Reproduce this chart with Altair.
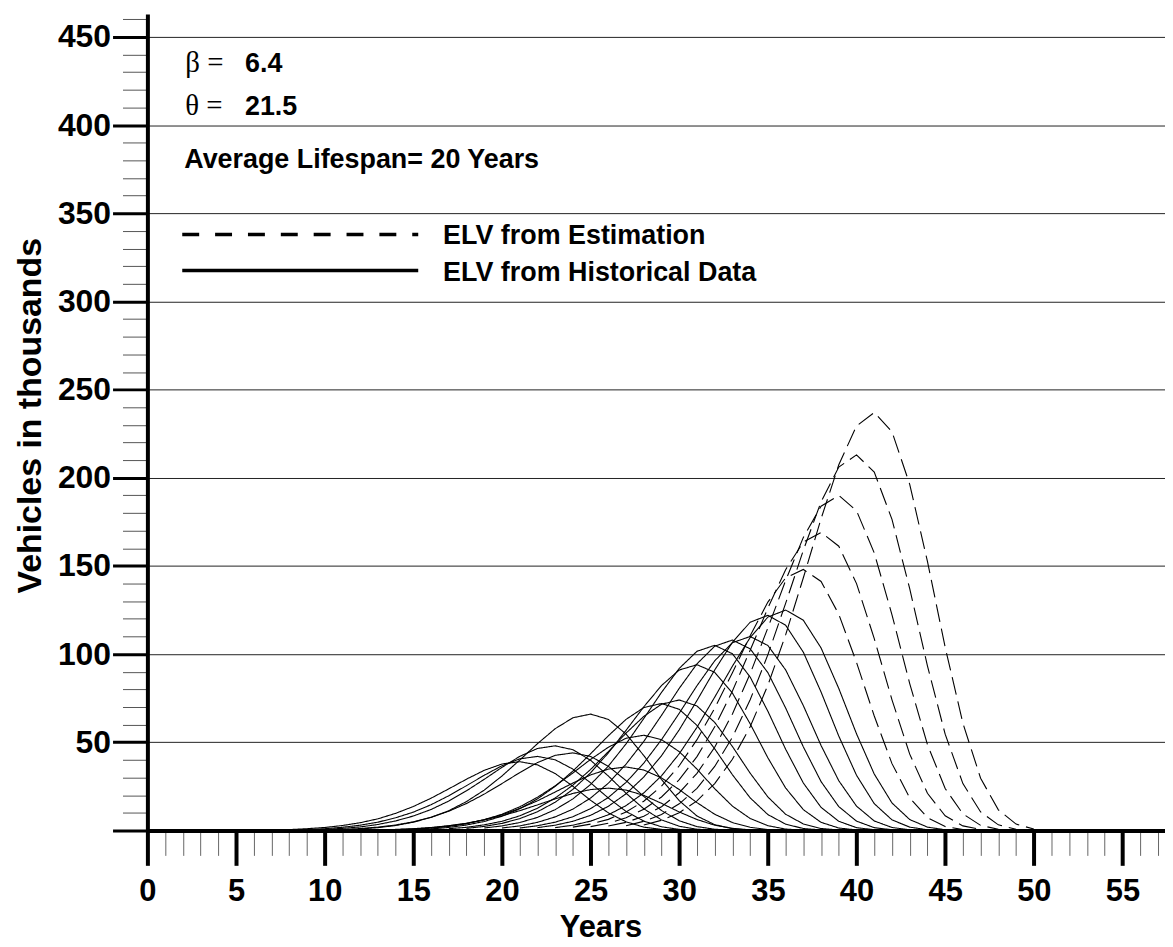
import altair as alt
import pandas as pd

# ---------------- data ----------------
# years after the start of each cohort at which values were read
OFFSETS = [8, 9, 10, 11, 12, 13, 14, 15, 16, 17, 18, 19, 20, 21, 22, 23, 24, 25, 26, 27, 28, 29, 30]
# first year (x) of each cohort curve
COHORT_START = [0, 1, 2, 3, 4, 5, 6, 7, 8, 9, 10, 11, 12, 13, 14, 15, 16, 17, 18, 19, 20]
COHORT_KIND = ["ELV from Historical Data"] * 16 + ["ELV from Estimation"] * 5

C00 = [0.5, 1.0, 1.7, 2.8, 4.4, 6.6, 9.7, 13.6, 18.3, 23.6, 29.1, 34.1, 37.7, 39.0, 37.2, 32.3, 25.1, 17.1, 10.0, 4.9, 1.9, 0.6, 0.1]
C01 = [0.5, 1.0, 1.8, 3.0, 4.7, 7.2, 10.4, 14.6, 19.7, 25.4, 31.3, 36.7, 40.6, 42.0, 40.1, 34.8, 27.0, 18.4, 10.8, 5.3, 2.1, 0.6, 0.1]
C02 = [0.6, 1.2, 2.0, 3.4, 5.4, 8.2, 11.9, 16.7, 22.5, 29.0, 35.8, 42.0, 46.5, 48.0, 45.8, 39.8, 30.9, 21.1, 12.3, 6.0, 2.4, 0.7, 0.2]
C03 = [0.6, 1.1, 1.9, 3.1, 4.9, 7.5, 10.9, 15.3, 20.6, 26.6, 32.8, 38.5, 42.6, 44.0, 42.0, 36.4, 28.3, 19.3, 11.3, 5.5, 2.2, 0.7, 0.2]
C04 = [0.9, 1.6, 2.8, 4.7, 7.4, 11.2, 16.4, 22.9, 30.9, 39.9, 49.2, 57.7, 63.9, 66.0, 63.0, 54.7, 42.5, 28.9, 16.9, 8.2, 3.3, 1.0, 0.2]
C05 = [0.3, 0.6, 1.0, 1.7, 2.7, 4.1, 6.0, 8.3, 11.2, 14.5, 17.9, 21.0, 23.2, 24.0, 22.9, 19.9, 15.4, 10.5, 6.2, 3.0, 1.2, 0.4, 0.1]
C06 = [0.5, 0.9, 1.5, 2.6, 4.0, 6.1, 8.9, 12.5, 16.8, 21.8, 26.9, 31.5, 34.8, 36.0, 34.3, 29.8, 23.2, 15.8, 9.2, 4.5, 1.8, 0.5, 0.1]
C07 = [0.7, 1.3, 2.3, 3.8, 6.1, 9.2, 13.4, 18.8, 25.3, 32.6, 40.3, 47.2, 52.3, 54.0, 51.5, 44.7, 34.8, 23.7, 13.8, 6.8, 2.7, 0.8, 0.2]
C08 = [0.9, 1.7, 3.1, 5.1, 8.1, 12.3, 17.9, 25.0, 33.7, 43.5, 53.7, 63.0, 69.7, 72.0, 68.7, 59.6, 46.3, 31.6, 18.5, 9.0, 3.6, 1.1, 0.3]
C09 = [1.0, 1.8, 3.2, 5.2, 8.3, 12.6, 18.4, 25.7, 34.6, 44.7, 55.2, 64.7, 71.6, 74.0, 70.6, 61.3, 47.6, 32.5, 19.0, 9.2, 3.7, 1.1, 0.3]
C10 = [1.2, 2.3, 4.0, 6.7, 10.6, 16.0, 23.3, 32.7, 44.0, 56.8, 70.1, 82.2, 91.0, 94.0, 89.7, 77.9, 60.5, 41.2, 24.1, 11.8, 4.6, 1.4, 0.3]
C11 = [1.4, 2.6, 4.5, 7.4, 11.8, 17.9, 26.1, 36.5, 49.1, 63.5, 78.3, 91.9, 101.6, 105.0, 100.2, 87.0, 67.6, 46.1, 26.9, 13.1, 5.2, 1.6, 0.4]
C12 = [1.4, 2.6, 4.6, 7.7, 12.1, 18.4, 26.8, 37.6, 50.5, 65.3, 80.6, 94.5, 104.5, 108.0, 103.0, 89.5, 69.5, 47.4, 27.7, 13.5, 5.3, 1.6, 0.4]
C13 = [1.4, 2.7, 4.7, 7.8, 12.4, 18.7, 27.3, 38.2, 51.5, 66.5, 82.1, 96.2, 106.5, 110.0, 104.9, 91.1, 70.8, 48.2, 28.2, 13.8, 5.4, 1.7, 0.4]
C14 = [1.6, 3.0, 5.2, 8.6, 13.7, 20.8, 30.3, 42.4, 57.1, 73.7, 91.0, 106.7, 118.1, 122.0, 116.4, 101.1, 78.5, 53.5, 31.3, 15.2, 6.0, 1.9, 0.4]
C15 = [1.6, 3.0, 5.3, 8.9, 14.1, 21.3, 31.0, 43.5, 58.5, 75.6, 93.2, 109.4, 121.0, 125.0, 119.2, 103.5, 80.5, 54.8, 32.0, 15.6, 6.2, 1.9, 0.4]
C16 = [1.9, 3.6, 6.3, 10.5, 16.6, 25.2, 36.7, 51.5, 69.3, 89.5, 110.4, 129.5, 143.2, 148.0, 141.2, 122.6, 95.3, 64.9, 37.9, 18.5, 7.3, 2.2, 0.5]
C17 = [2.2, 4.1, 7.2, 12.0, 19.0, 28.8, 41.9, 58.8, 79.1, 102.2, 126.1, 147.9, 163.6, 169.0, 161.2, 140.0, 108.8, 74.1, 43.3, 21.1, 8.3, 2.6, 0.6]
C18 = [2.5, 4.6, 8.1, 13.5, 21.4, 32.4, 47.2, 66.1, 88.9, 114.9, 141.7, 166.2, 183.9, 190.0, 181.3, 157.4, 122.3, 83.3, 48.7, 23.8, 9.4, 2.9, 0.7]
C19 = [2.7, 5.2, 9.1, 15.1, 23.9, 36.3, 52.9, 74.1, 99.7, 128.8, 158.9, 186.4, 206.1, 213.0, 203.2, 176.4, 137.1, 93.4, 54.6, 26.6, 10.5, 3.2, 0.7]
C20 = [3.1, 5.8, 10.1, 16.8, 26.6, 40.4, 58.8, 82.4, 110.9, 143.3, 176.8, 207.4, 229.4, 237.0, 226.1, 196.3, 152.6, 103.9, 60.8, 29.6, 11.7, 3.6, 0.8]
CURVES = [C00, C01, C02, C03, C04, C05, C06, C07, C08, C09, C10,
          C11, C12, C13, C14, C15, C16, C17, C18, C19, C20]

X_TICKS = list(range(0, 58))          # every year (labels every 5)
Y_TICKS = list(range(0, 461, 10))     # every 10 (labels every 50)

LEGEND_LABELS = ["ELV from Estimation", "ELV from Historical Data"]
PARAM_SYMBOLS = ["\u03b2 =", "\u03b8 ="]
PARAM_VALUES = ["6.4", "21.5"]
LIFESPAN_TEXT = "Average Lifespan= 20 Years"

# ---------------- table ----------------
rows = []
for idx, (start, kind, vals) in enumerate(zip(COHORT_START, COHORT_KIND, CURVES)):
    for off, v in zip(OFFSETS, vals):
        rows.append({"cohort": idx, "year": start + off, "value": v, "kind": kind})
df = pd.DataFrame(rows)

FONT = "Liberation Sans"
SERIF = "Liberation Serif"

x_axis = alt.Axis(
    values=X_TICKS,
    tickSize={"condition": {"test": "datum.value % 5 === 0", "value": 35}, "value": 25},
    tickWidth={"condition": {"test": "datum.value % 5 === 0", "value": 4}, "value": 1},
    tickColor={"condition": {"test": "datum.value % 5 === 0", "value": "#000000"}, "value": "#666666"},
    labelExpr="datum.value % 5 === 0 ? datum.label : ''",
    labelFont=FONT, labelFontSize=31, labelFontWeight="bold", labelColor="black",
    labelPadding=11, labelFlush=False, labelOverlap=False,
    domainWidth=4, domainColor="black", grid=False,
    title="Years", titleFont=FONT, titleFontSize=31, titleFontWeight="bold", titleColor="black",
    titleX=455, titleY=106, titleAlign="center", titleBaseline="alphabetic",
)

y_axis = alt.Axis(
    values=Y_TICKS,
    tickSize={"condition": {"test": "datum.value % 50 === 0", "value": 35}, "value": 25},
    tickWidth={"condition": {"test": "datum.value % 50 === 0", "value": 3}, "value": 1},
    tickColor={"condition": {"test": "datum.value % 50 === 0", "value": "#000000"}, "value": "#555555"},
    labelExpr="datum.value % 50 === 0 && datum.value > 0 ? datum.label : ''",
    labelFont=FONT, labelFontSize=32, labelFontWeight="bold", labelColor="black",
    labelPadding=2, labelFlush=False, labelOverlap=False,
    domainWidth=4, domainColor="black",
    grid=True, gridColor="#222222", gridWidth=1,
    gridOpacity={"condition": {"test": "datum.value % 50 === 0 && datum.value > 0", "value": 1}, "value": 0},
    title="Vehicles in thousands", titleFont=FONT, titleFontSize=34, titleFontWeight="bold", titleColor="black",
    titleAngle=270, titleX=-107, titleY=403, titleAlign="center", titleBaseline="alphabetic",
)

lines = alt.Chart(df).mark_line(color="black", strokeWidth=1.1).encode(
    x=alt.X("year:Q", scale=alt.Scale(domain=[0, 57.4], nice=False, zero=False), axis=x_axis),
    y=alt.Y("value:Q", scale=alt.Scale(domain=[0, 463], nice=False), axis=y_axis),
    detail="cohort:N",
    strokeDash=alt.StrokeDash(
        "kind:N",
        scale=alt.Scale(domain=["ELV from Historical Data", "ELV from Estimation"], range=[[1, 0], [18, 7]]),
        legend=None,
    ),
    order="year:Q",
)

def text_layer(txt, x, y, font, size, weight="normal"):
    return alt.Chart(pd.DataFrame({"t": [txt]})).mark_text(
        font=font, fontSize=size, fontWeight=weight, color="black",
        align="left", baseline="alphabetic",
    ).encode(x=alt.value(x), y=alt.value(y), text="t:N")

ann = [
    text_layer(PARAM_SYMBOLS[0], 38, 58, SERIF, 29),
    text_layer(PARAM_VALUES[0], 98, 58, FONT, 27, "bold"),
    text_layer(PARAM_SYMBOLS[1], 38, 101, SERIF, 29),
    text_layer(PARAM_VALUES[1], 98, 101, FONT, 27, "bold"),
    text_layer(LIFESPAN_TEXT, 37, 155, FONT, 27, "bold"),
    text_layer(LEGEND_LABELS[0], 297, 231, FONT, 27, "bold"),
    text_layer(LEGEND_LABELS[1], 297, 268, FONT, 27, "bold"),
]

leg_dash = alt.Chart(pd.DataFrame({"k": [LEGEND_LABELS[0]]})).mark_rule(
    color="black", strokeWidth=3.5, strokeDash=[17, 16]
).encode(x=alt.value(35), x2=alt.value(272), y=alt.value(221.5))
leg_solid = alt.Chart(pd.DataFrame({"k": [LEGEND_LABELS[1]]})).mark_rule(
    color="black", strokeWidth=3.5
).encode(x=alt.value(35), x2=alt.value(272), y=alt.value(257.5))

chart = alt.layer(lines, leg_dash, leg_solid, *ann).properties(
    width=1022, height=820,
    autosize=alt.AutoSizeParams(type="none"),
    padding={"left": 140, "top": 4, "right": 0, "bottom": 114},
    background="white",
).configure_view(stroke=None)

chart.save("out.html", embed_options={"renderer": "svg", "actions": False})
